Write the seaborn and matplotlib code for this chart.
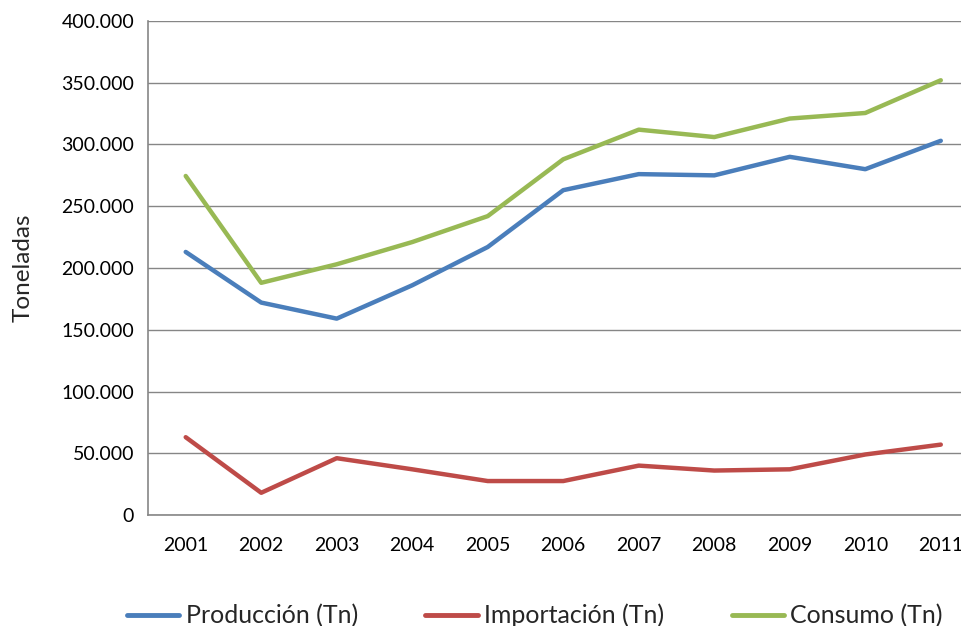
import matplotlib
matplotlib.use("Agg")
import matplotlib.pyplot as plt
import matplotlib.ticker as mticker
import pandas as pd
import seaborn as sns

YEARS = [2001, 2002, 2003, 2004, 2005, 2006, 2007, 2008, 2009, 2010, 2011]
PRODUCCION = [213000, 172000, 159000, 186000, 217000, 263000, 276000, 275000, 290000, 280000, 303000]
IMPORTACION = [63000, 18000, 46000, 37000, 27500, 27500, 40000, 36000, 37000, 49000, 57000]
CONSUMO = [274500, 188000, 203000, 221000, 242000, 288000, 312000, 306000, 321000, 325500, 352000]

SERIES = ["Producción (Tn)", "Importación (Tn)", "Consumo (Tn)"]
COLORS = ["#4A7EBB", "#BE4B48", "#98B954"]

sns.set_style("white")
plt.rcParams["font.family"] = ["Lato", "DejaVu Sans"]

df = pd.concat([
    pd.DataFrame({"year": YEARS, "value": vals, "serie": name})
    for name, vals in zip(SERIES, [PRODUCCION, IMPORTACION, CONSUMO])
])

fig = plt.figure(figsize=(9.62, 6.26), dpi=100)
ax = fig.add_axes([0.1538, 0.1773, 0.8634, 0.7892])

sns.lineplot(data=df, x="year", y="value", hue="serie", hue_order=SERIES,
             palette=COLORS, linewidth=3.2, ax=ax, legend=False)

ax.set_xlim(2000.5, 2011.5)
ax.set_ylim(0, 400000)
ax.set_xticks(YEARS)
ax.set_xticklabels([str(y) for y in YEARS])
ax.yaxis.set_major_locator(mticker.MultipleLocator(50000))
ax.yaxis.set_major_formatter(mticker.FuncFormatter(
    lambda v, _: f"{int(v):,}".replace(",", ".")))
ax.grid(axis="y", color="#868686", linewidth=1)
ax.set_axisbelow(True)
for side in ["top", "right"]:
    ax.spines[side].set_visible(False)
for side in ["left", "bottom"]:
    ax.spines[side].set_color("#868686")
    ax.spines[side].set_linewidth(1.2)
ax.tick_params(axis="both", length=0, labelsize=14, colors="black")
ax.tick_params(axis="x", pad=16)
ax.tick_params(axis="y", pad=10)
ax.set_xlabel("")
ax.set_ylabel("Toneladas", fontsize=17.5, labelpad=20)

handles = [plt.Line2D([], [], color=c, linewidth=3.5) for c in COLORS]
fig.legend(handles, SERIES, loc="lower center", bbox_to_anchor=(0.556, -0.038),
           ncol=3, frameon=False, fontsize=18, handlelength=2.1,
           handletextpad=0.25, columnspacing=2.7)

fig.savefig("out.png", dpi=100)
